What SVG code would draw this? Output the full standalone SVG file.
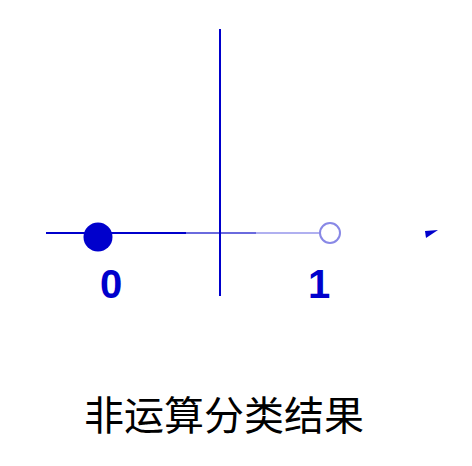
<svg xmlns="http://www.w3.org/2000/svg" width="472" height="466" viewBox="0 0 472 466">
<style>
.lbl{font-family:"Liberation Sans",Arial,sans-serif;font-weight:bold;font-size:40px;fill:#0000cc;text-anchor:middle}
.title{font-family:"Noto Sans CJK SC",sans-serif;font-size:40px;fill:#000;text-anchor:middle}
</style>
<rect width="472" height="466" fill="#fff"/>
<g id="connectors">
<line x1="46" y1="233" x2="186" y2="233" stroke="#0000cc" stroke-width="2"/>
<line x1="186" y1="233" x2="256" y2="233" stroke="#6a6ade" stroke-width="2"/>
<line x1="256" y1="233" x2="320" y2="233" stroke="#b0b0f0" stroke-width="2"/>
<line x1="220" y1="29" x2="220" y2="296" stroke="#0000cc" stroke-width="2"/>
</g>
<g id="point0"><circle cx="98" cy="237" r="14.5" fill="#0000cc"/></g>
<g id="point1"><circle cx="330" cy="233" r="10" fill="#fff" stroke="#8888e6" stroke-width="2"/></g>
<g id="arrow"><polygon points="425,231 438,230 426,238" fill="#0000cc"/></g>
<g id="label0"><text class="lbl" x="111" y="298">0</text></g>
<g id="label1"><text class="lbl" x="319" y="298">1</text></g>
<g id="title"><text class="title" x="224" y="430">非运算分类结果</text></g>
</svg>
